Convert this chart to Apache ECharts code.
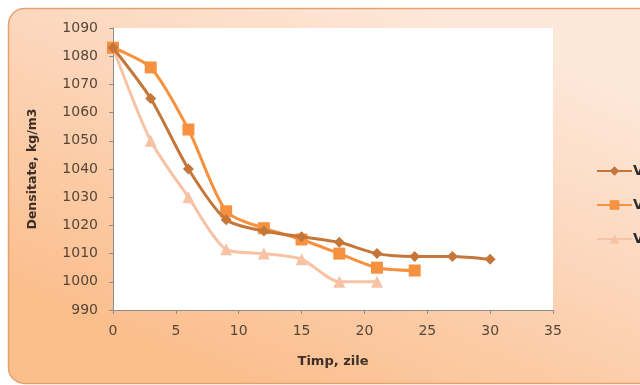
<!DOCTYPE html>
<html>
<head>
<meta charset="utf-8">
<script src="https://cdn.jsdelivr.net/npm/echarts@6/dist/echarts.min.js"></script>
<style>
  html, body { margin: 0; padding: 0; background: #ffffff; }
  #chart { width: 640px; height: 385px; }
</style>
</head>
<body>
<div id="chart"></div>
<script>
// Density over fermentation time, three variants
const days1 = [0, 3, 6, 9, 12, 15, 18, 21, 24, 27, 30];
const dens1 = [1083, 1065, 1040, 1022, 1018, 1016, 1014, 1010, 1009, 1009, 1008];

const days2 = [0, 3, 6, 9, 12, 15, 18, 21, 24];
const dens2 = [1083, 1076, 1054, 1025, 1019, 1015, 1010, 1005, 1004];

const days3 = [0, 3, 6, 9, 12, 15, 18, 21];
const dens3 = [1083, 1050, 1030, 1011.5, 1010, 1008, 1000, 1000];

const seriesNames = ['V1', 'V2', 'V3'];
const xTitle = 'Timp, zile';
const yTitle = 'Densitate, kg/m3';

const pairs = (xs, ys) => xs.map((x, i) => [x, ys[i]]);

const font = '"DejaVu Sans", "Open Sans", sans-serif';
const textColor = '#574638';

const chart = echarts.init(document.getElementById('chart'), null, { renderer: 'canvas' });

chart.setOption({
  animation: false,
  backgroundColor: '#ffffff',
  graphic: [
    {
      type: 'rect',
      z: -10,
      shape: { x: 8.5, y: 8.5, width: 660, height: 375, r: 16 },
      style: {
        fill: {
          type: 'linear', x: 0.62, y: 0, x2: 0.38, y2: 1,
          colorStops: [
            { offset: 0, color: '#fde7d8' },
            { offset: 0.4, color: '#fcd7bd' },
            { offset: 1, color: '#fbbf8e' }
          ]
        },
        stroke: '#e0a26f',
        lineWidth: 1.5
      }
    }
  ],
  grid: {
    left: 113, top: 28, width: 440, height: 282,
    show: true, backgroundColor: '#ffffff', borderWidth: 0
  },
  legend: {
    orient: 'vertical',
    left: 591, top: 159,
    itemGap: 20,
    itemWidth: 35, itemHeight: 12,
    textStyle: { fontFamily: font, fontSize: 14, fontWeight: 'bold', color: '#2b2b2b', padding: [0, 0, 0, -4] },
    data: seriesNames
  },
  xAxis: {
    type: 'value',
    min: 0, max: 35, interval: 5,
    name: xTitle,
    nameLocation: 'middle',
    nameGap: 45,
    nameTextStyle: { fontFamily: font, fontSize: 13, fontWeight: 'bold', color: '#3d2f27' },
    axisLine: { show: true, onZero: false, lineStyle: { color: '#8c8c8c', width: 1 } },
    axisTick: { show: true, length: 4, lineStyle: { color: '#8c8c8c' } },
    axisLabel: { fontFamily: font, fontSize: 14, color: textColor, margin: 14 },
    splitLine: { show: false }
  },
  yAxis: {
    type: 'value',
    min: 990, max: 1090, interval: 10,
    name: yTitle,
    nameLocation: 'middle',
    nameRotate: 90,
    nameGap: 74,
    nameTextStyle: { fontFamily: font, fontSize: 12.5, fontWeight: 'bold', color: '#3d2f27' },
    axisLine: { show: true, lineStyle: { color: '#8c8c8c', width: 1 } },
    axisTick: { show: true, length: 4, lineStyle: { color: '#8c8c8c' } },
    axisLabel: { fontFamily: font, fontSize: 14, color: textColor, margin: 15, formatter: v => String(v) },
    splitLine: { show: false }
  },
  series: [
    {
      name: seriesNames[0],
      type: 'line',
      smooth: 0.25,
      data: pairs(days1, dens1),
      symbol: 'diamond', symbolSize: 11,
      lineStyle: { color: '#c5773a', width: 3 },
      itemStyle: { color: '#c5773a' },
      z: 4
    },
    {
      name: seriesNames[1],
      type: 'line',
      smooth: 0.25,
      data: pairs(days2, dens2),
      symbol: 'rect', symbolSize: 12,
      lineStyle: { color: '#f6923f', width: 3 },
      itemStyle: { color: '#f6923f' },
      z: 3
    },
    {
      name: seriesNames[2],
      type: 'line',
      smooth: 0.25,
      data: pairs(days3, dens3),
      symbol: 'triangle', symbolSize: 12,
      lineStyle: { color: '#f8c3a5', width: 3 },
      itemStyle: { color: '#f8c3a5' },
      z: 2
    }
  ]
});
</script>
</body>
</html>
